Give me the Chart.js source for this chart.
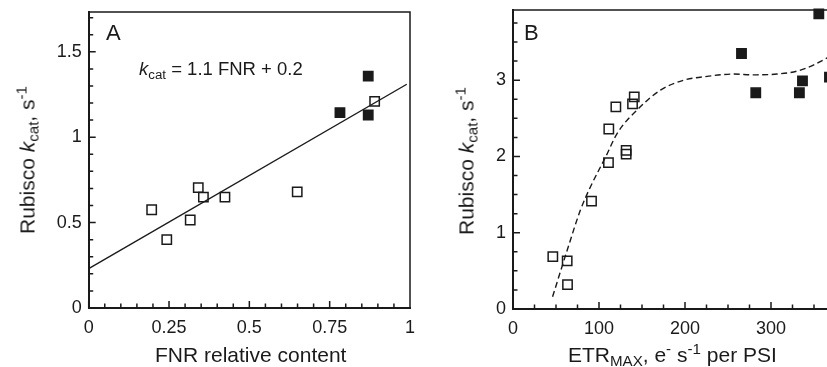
<!DOCTYPE html>
<html><head><meta charset="utf-8">
<script src="https://cdn.jsdelivr.net/npm/chart.js@4/dist/chart.umd.min.js"></script>
<style>
html,body{margin:0;padding:0;width:827px;height:367px;overflow:hidden;background:#fff;}
#wrap{position:relative;width:827px;height:367px;overflow:hidden;font-family:"Liberation Sans",Arial,sans-serif;color:#1a1a1a;}
canvas{position:absolute;top:0;}
.t{position:absolute;white-space:nowrap;line-height:1;}
sub,sup{font-size:0.72em;line-height:0;}
sub{vertical-align:-0.28em;} sup{vertical-align:0.5em;}
.rot{transform:translate(-50%,-50%) rotate(-90deg);}
</style></head>
<body><div id="wrap">
<canvas id="cA" width="420" height="367" style="left:0"></canvas>
<canvas id="cB" width="440" height="367" style="left:420px"></canvas>
<div class="t" style="font-size:22px;left:106px;top:22px">A</div>
<div class="t" style="font-size:22px;left:524px;top:22px">B</div>
<div class="t" style="font-size:18.5px;left:139px;top:60px"><i>k</i><sub>cat</sub> = 1.1 FNR + 0.2</div>
<div class="t" style="font-size:21px;left:155px;top:344px">FNR relative content</div>
<div class="t" style="font-size:21px;left:568px;top:344px">ETR<sub>MAX</sub>, e<sup>-</sup> s<sup>-1</sup> per PSI</div>
<div class="t rot" style="font-size:21px;left:27px;top:160px">Rubisco <i>k</i><sub>cat</sub>, s<sup>-1</sup></div>
<div class="t rot" style="font-size:21px;left:466px;top:161px">Rubisco <i>k</i><sub>cat</sub>, s<sup>-1</sup></div>
</div>
<script>
// ---- Panel A data ----
const fnrOpen = [0.196, 0.243, 0.316, 0.341, 0.357, 0.424, 0.649, 0.890];
const kcatOpenA = [0.575, 0.40, 0.515, 0.705, 0.649, 0.649, 0.68, 1.21];
const fnrFilled = [0.782, 0.870, 0.870];
const kcatFilledA = [1.144, 1.358, 1.13];
const fitFnr = [0, 0.99];
const fitKcat = [0.23, 1.31];
// ---- Panel B data ----
const etrOpen = [46.3, 63, 63.4, 91.3, 111, 111.4, 119.6, 131.6, 131.6, 139, 141];
const kcatOpenB = [0.686, 0.63, 0.32, 1.415, 1.92, 2.36, 2.65, 2.08, 2.03, 2.69, 2.78];
const etrFilled = [265.7, 282.3, 333, 336.6, 355.6, 368];
const kcatFilledB = [3.35, 2.835, 2.835, 2.99, 3.87, 3.04];
const curveEtr = [46, 63, 78.5, 90, 108, 121, 148, 171.5, 198.6, 225.8, 256.8, 280, 307, 330.5, 349.8, 368];
const curveKcat = [0.16, 0.77, 1.30, 1.60, 2.0, 2.30, 2.65, 2.87, 3.0, 3.05, 3.08, 3.07, 3.08, 3.12, 3.2, 3.31];
// ---- tick labels ----
const ticksAx = [0, 0.25, 0.5, 0.75, 1];
const ticksAy = [0, 0.5, 1, 1.5];
const ticksBx = [0, 100, 200, 300];
const ticksBy = [0, 1, 2, 3];

const INK = '#1a1a1a';
const FONT = '"Liberation Sans", Arial, sans-serif';
const pts = (xs, ys) => xs.map((x, i) => ({x, y: ys[i]}));

function mkScale(min, max, ticks, fixed, horiz, pad) {
  return {
    type: 'linear', min, max,
    grid: {display: false, drawTicks: false},
    border: {display: true, color: INK, width: 2},
    ticks: {color: INK, font: {family: FONT, size: 18}, padding: pad, autoSkip: false, maxRotation: 0,
      callback: v => String(v)},
    afterBuildTicks: s => { s.ticks = ticks.map(v => ({value: v})); },
    afterFit: s => {
      if (horiz) s.height = fixed; else s.width = fixed;
      s.paddingTop = 0; s.paddingBottom = 0; s.paddingLeft = 0; s.paddingRight = 0;
    }
  };
}

const frame = {
  id: 'frame',
  afterDatasetsDraw(chart, args, o) {
    const {ctx, chartArea: a, scales: {x, y}} = chart;
    ctx.save();
    ctx.strokeStyle = INK;
    ctx.lineWidth = 1.5;
    ctx.beginPath();
    ctx.moveTo(a.left, a.top); ctx.lineTo(a.right, a.top);
    if (o.right) ctx.lineTo(a.right, a.bottom);
    ctx.stroke();
    ctx.lineWidth = 1.5;
    ctx.beginPath();
    const nx = Math.round((x.max - x.min) / o.xMinor);
    for (let i = 0; i <= nx; i++) {
      const v = x.min + i * o.xMinor;
      const major = Math.abs(v / o.xMajor - Math.round(v / o.xMajor)) < 1e-6;
      const px = x.getPixelForValue(v);
      if (px > a.right - 1) break;
      ctx.moveTo(px, a.bottom); ctx.lineTo(px, a.bottom - (major ? 7 : 4.5));
    }
    const ny = Math.round((y.max - y.min) / o.yMinor);
    for (let i = 0; i <= ny; i++) {
      const v = y.min + i * o.yMinor;
      const major = Math.abs(v / o.yMajor - Math.round(v / o.yMajor)) < 1e-6;
      const py = y.getPixelForValue(v);
      if (py < a.top + 1) break;
      ctx.moveTo(a.left, py); ctx.lineTo(a.left + (major ? 7 : 4.5), py);
    }
    ctx.stroke();
    ctx.restore();
  }
};

const openStyle = {type: 'scatter', pointStyle: 'rect', pointRadius: 6.6, pointHoverRadius: 6.6,
  pointBackgroundColor: 'rgba(0,0,0,0)', pointBorderColor: INK, pointBorderWidth: 1.5, showLine: false, clip: false, order: 1};
const filledStyle = {type: 'scatter', pointStyle: 'rect', pointRadius: 6.6, pointHoverRadius: 6.6,
  pointBackgroundColor: INK, pointBorderColor: INK, pointBorderWidth: 1.5, showLine: false, clip: false, order: 1};

const common = {
  responsive: false, animation: false, devicePixelRatio: 1,
  plugins: {legend: {display: false}, tooltip: {enabled: false}}
};

new Chart(document.getElementById('cA'), {
  type: 'scatter',
  data: {datasets: [
    {...openStyle, data: pts(fnrOpen, kcatOpenA)},
    {...filledStyle, data: pts(fnrFilled, kcatFilledA)},
    {type: 'line', data: pts(fitFnr, fitKcat), borderColor: INK, borderWidth: 1.4, pointRadius: 0, fill: false, order: 3}
  ]},
  options: {...common,
    layout: {padding: {top: 12, right: 10, left: 0, bottom: 0}},
    scales: {
      x: mkScale(0, 1, ticksAx, 59, true, 9),
      y: mkScale(0, 1.733, ticksAy, 88.7, false, 7)
    },
    plugins: {...common.plugins, frame: {right: true, xMinor: 0.05, xMajor: 0.25, yMinor: 0.1, yMajor: 0.5}}
  },
  plugins: [frame]
});

new Chart(document.getElementById('cB'), {
  type: 'scatter',
  data: {datasets: [
    {...openStyle, data: pts(etrOpen, kcatOpenB)},
    {...filledStyle, data: pts(etrFilled, kcatFilledB)},
    {type: 'line', data: pts(curveEtr, curveKcat), borderColor: INK, borderWidth: 1.4, borderDash: [6, 3.5],
      cubicInterpolationMode: 'monotone', pointRadius: 0, fill: false, order: 3}
  ]},
  options: {...common,
    layout: {padding: {top: 10, right: 20.2, left: 0, bottom: 0}},
    scales: {
      x: mkScale(0, 380, ticksBx, 58, true, 9),
      y: mkScale(0, 3.92, ticksBy, 93, false, 7)
    },
    plugins: {...common.plugins, frame: {right: true, xMinor: 25, xMajor: 100, yMinor: 0.25, yMajor: 1}}
  },
  plugins: [frame]
});
</script>
</body></html>
